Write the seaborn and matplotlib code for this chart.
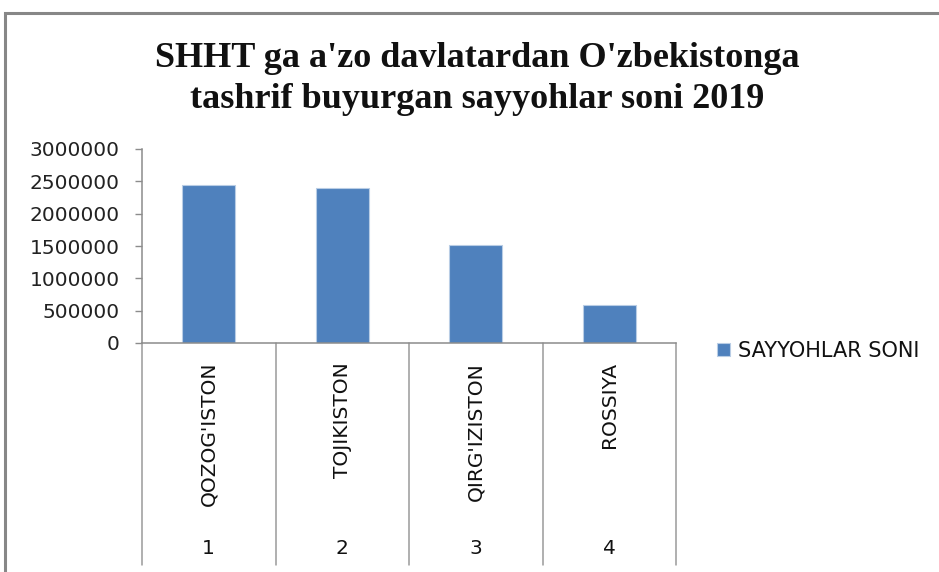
import matplotlib
matplotlib.use("Agg")
import matplotlib.pyplot as plt
import matplotlib.transforms as mtransforms
from matplotlib.patches import Rectangle
import seaborn as sns
import pandas as pd

# Tourist arrivals to Uzbekistan from SCO member states, 2019
countries = ["QOZOG'ISTON", "TOJIKISTON", "QIRG'IZISTON", "ROSSIYA"]
ranks = ["1", "2", "3", "4"]
tourists = [2450000, 2390000, 1520000, 590000]
yticks = [0, 500000, 1000000, 1500000, 2000000, 2500000, 3000000]
series_name = "SAYYOHLAR SONI"
title = "SHHT ga a'zo davlatardan O'zbekistonga\ntashrif buyurgan sayyohlar soni 2019"

df = pd.DataFrame({"country": countries, "tourists": tourists})

sns.set_theme(style="white")
plt.rcParams["font.family"] = ["DejaVu Sans"]

W, H = 939, 572
fig = plt.figure(figsize=(W / 100, H / 100), dpi=100)
fig.patch.set_facecolor("white")

def fx(px):
    return px / W

def fy(py):
    return 1 - py / H

# chart frame
fig.patches.append(Rectangle((fx(5), fy(620)), 2.0, fy(13) - fy(620),
                             transform=fig.transFigure, fill=False,
                             edgecolor="#878787", linewidth=2.2, zorder=0))

left, right, top, bottom = 142, 676, 149, 343
ax = fig.add_axes([fx(left), fy(bottom), fx(right - left), fy(top) - fy(bottom)])

blue = "#4F81BD"
sns.barplot(data=df, x="country", y="tourists", color=blue, width=0.4,
            saturation=1, edgecolor="#B9CDE5", linewidth=0.8, ax=ax,
            label=series_name)

ax.set_ylim(0, 3000000)
ax.set_xlim(-0.5, len(countries) - 0.5)
ax.set_yticks(yticks)
ax.set_yticklabels([str(v) for v in yticks], fontsize=14.5, color="#222222")
ax.set_xticks([])
ax.set_xlabel("")
ax.set_ylabel("")
ax.tick_params(axis="y", length=5, width=1, color="#8c8c8c", direction="out",
               pad=11, left=True)
for s in ["top", "right"]:
    ax.spines[s].set_visible(False)
for s in ["left", "bottom"]:
    ax.spines[s].set_color("#8c8c8c")
    ax.spines[s].set_linewidth(1.1)

# multi-level category axis below the plot
trans = mtransforms.blended_transform_factory(ax.transData, ax.transAxes)
depth = -(565 - bottom) / (bottom - top)
for i in range(len(countries) + 1):
    ax.plot([i - 0.5, i - 0.5], [0, depth], transform=trans, color="#9a9a9a",
            linewidth=1.1, clip_on=False)
label_top = -(362 - bottom) / (bottom - top)
rank_y = -(548 - bottom) / (bottom - top)
for i, (name, r) in enumerate(zip(countries, ranks)):
    ax.text(i, label_top, name, transform=trans, rotation=90, ha="center",
            va="top", fontsize=14.5, color="#111111")
    ax.text(i, rank_y, r, transform=trans, ha="center", va="center",
            fontsize=14.5, color="#111111")

# legend
leg = ax.legend(loc="center left", bbox_to_anchor=(fx(717), fy(351)),
                bbox_transform=fig.transFigure, frameon=False, fontsize=15,
                handlelength=0.62, handleheight=0.62, handletextpad=0.4,
                borderaxespad=0, borderpad=0)
for t in leg.get_texts():
    t.set_color("#111111")

fig.text(fx(477), fy(79), title, ha="center", va="center",
         fontsize=26, fontweight="bold", family="Liberation Serif",
         color="#111111", linespacing=1.3)

fig.savefig("out.png", dpi=100, facecolor="white")
